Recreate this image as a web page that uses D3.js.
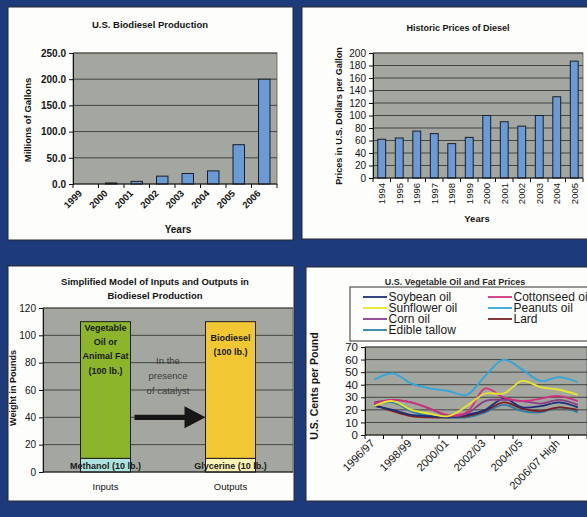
<!DOCTYPE html>
<html>
<head>
<meta charset="utf-8">
<script src="https://cdn.jsdelivr.net/npm/d3@7"></script>
<style>
  html, body { margin: 0; padding: 0; background: #1d3b7a; }
  svg { display: block; font-family: "Liberation Sans", Arial, sans-serif; }
</style>
</head>
<body>
<svg id="chart" width="587" height="517"></svg>
<script>
// ---- U.S. biodiesel production (millions of gallons)
const prodYears = ["1999", "2000", "2001", "2002", "2003", "2004", "2005", "2006"];
const prodValues = [0, 2, 5, 15, 20, 25, 75, 200];
const prodTicks = [0, 50, 100, 150, 200, 250];

// ---- Historic diesel prices
const dieselYears = ["1994", "1995", "1996", "1997", "1998", "1999", "2000", "2001", "2002", "2003", "2004", "2005"];
const dieselValues = [62, 64, 75, 71, 55, 65, 100, 90, 83, 100, 130, 187];
const dieselTicks = [0, 20, 40, 60, 80, 100, 120, 140, 160, 180, 200];

// ---- Inputs / outputs model (pounds)
const modelCats = ["Inputs", "Outputs"];
const modelBottom = [10, 10];          // methanol, glycerine
const modelTop = [100, 100];           // vegetable oil / animal fat, biodiesel
const modelBottomLabels = ["Methanol (10 lb.)", "Glycerine (10 lb.)"];
const modelTopLabels = [["Vegetable", "Oil or", "Animal Fat", "(100 lb.)"], ["Biodiesel", "(100 lb.)"]];
const modelTicks = [0, 20, 40, 60, 80, 100, 120];
const arrowLevel = 40;
const catalystText = ["In the", "presence", "of catalyst"];

// ---- Vegetable oil and fat prices (U.S. cents per pound)
const oilSeasons = ["1996/97", "1997/98", "1998/99", "1999/00", "2000/01", "2001/02",
                    "2002/03", "2003/04", "2004/05", "2005/06", "2006/07 High", "2006/07 Low"];
const soybeanOil    = [23, 20, 16, 15, 14, 16, 20, 29, 22, 23, 26, 22];
const cottonseedOil = [25, 28, 26, 21, 16, 18, 37, 30, 27, 29, 31, 27];
const sunflowerOil  = [23, 27, 20, 17, 15, 23, 33, 33, 43, 38, 36, 32];
const peanutsOil    = [44, 49, 41, 37, 35, 32, 47, 60, 52, 43, 46, 42];
const cornOil       = [26, 28, 26, 21, 15, 17, 27, 28, 27, 25, 28, 24];
const lard          = [24, 19, 15, 14, 14, 15, 19, 26, 21, 19, 22, 20];
const edibleTallow  = [24, 26, 19, 15, 14, 14, 18, 24, 19, 18, 22, 18];
const oilTicks = [0, 10, 20, 30, 40, 50, 60, 70];

const oilSeries = [
  { name: "Soybean oil",    values: soybeanOil,    color: "#1c2f7a", col: 0, row: 0 },
  { name: "Sunflower oil",  values: sunflowerOil,  color: "#e8e62a", col: 0, row: 1 },
  { name: "Corn oil",       values: cornOil,       color: "#8a3f86", col: 0, row: 2 },
  { name: "Edible tallow",  values: edibleTallow,  color: "#2a7fa8", col: 0, row: 3 },
  { name: "Cottonseed oil", values: cottonseedOil, color: "#d3307f", col: 1, row: 0 },
  { name: "Peanuts oil",    values: peanutsOil,    color: "#2fa6dc", col: 1, row: 1 },
  { name: "Lard",           values: lard,          color: "#7a1f22", col: 1, row: 2 }
];

const PLOT_BG = "#a3a7a0";
const GRID = "#2a2c2a";
const BAR_FILL = "#6b9bd6";
const TEXT = "#151515";

const svg = d3.select("#chart");

// page background and the four white panels
svg.append("rect").attr("width", 587).attr("height", 517).attr("fill", "#1d3b7a");
const panelRects = [[8, 7, 285, 233], [302, 7, 292, 232], [8, 266, 286, 235], [306, 267, 290, 234]];
svg.selectAll("rect.panel").data(panelRects).join("rect")
  .attr("class", "panel")
  .attr("x", d => d[0]).attr("y", d => d[1])
  .attr("width", d => d[2]).attr("height", d => d[3])
  .attr("fill", "#fdfdfb").attr("stroke", "#2a2a2a").attr("stroke-width", 1);

function styleAxis(g, size, weight) {
  g.select(".domain").attr("stroke", "#111").attr("stroke-width", 1);
  g.selectAll(".tick line").attr("stroke", "#111");
  g.selectAll(".tick text").attr("fill", TEXT).attr("font-size", size).attr("font-weight", weight)
    .attr("font-family", "\"Liberation Sans\", Arial, sans-serif");
}

function plotArea(x, y) {
  const [x0, x1] = x.range();
  const [y0, y1] = y.range();
  svg.append("rect").attr("x", x0).attr("y", y1).attr("width", x1 - x0).attr("height", y0 - y1)
    .attr("fill", PLOT_BG).attr("stroke", "#5a5c5a").attr("stroke-width", 0.8);
}

function gridLines(x, y, ticks) {
  const [x0, x1] = x.range();
  svg.append("g").selectAll("line").data(ticks.filter(t => t > 0)).join("line")
    .attr("x1", x0).attr("x2", x1)
    .attr("y1", d => y(d)).attr("y2", d => y(d))
    .attr("stroke", GRID).attr("stroke-width", 0.8);
}

// category axis with ticks between categories
function bandAxis(x, yPos) {
  const [x0, x1] = x.range();
  const g = svg.append("g");
  g.append("line").attr("x1", x0).attr("x2", x1).attr("y1", yPos).attr("y2", yPos)
    .attr("stroke", "#111").attr("stroke-width", 1);
  const n = x.domain().length;
  const step = (x1 - x0) / n;
  g.selectAll("line.tk").data(d3.range(n + 1)).join("line").attr("class", "tk")
    .attr("x1", i => x0 + i * step).attr("x2", i => x0 + i * step)
    .attr("y1", yPos).attr("y2", yPos + 4)
    .attr("stroke", "#111");
}

function text(x, y, str, opts = {}) {
  return svg.append("text").attr("x", x).attr("y", y).text(str)
    .attr("font-size", opts.size || 9)
    .attr("font-weight", opts.weight || "bold")
    .attr("text-anchor", opts.anchor || "middle")
    .attr("fill", opts.fill || TEXT)
    .attr("transform", opts.rotate ? `rotate(${opts.rotate},${x},${y})` : null);
}

// ================= Panel 1: U.S. Biodiesel Production =================
{
  const x = d3.scaleBand().domain(prodYears).range([73, 277]).paddingInner(0.55).paddingOuter(0.275);
  const y = d3.scaleLinear().domain([0, 250]).range([184, 53]);
  plotArea(x, y);
  gridLines(x, y, prodTicks);
  svg.append("g").selectAll("rect").data(prodYears.map((d, i) => ({ d, v: prodValues[i] })).filter(o => o.v > 0))
    .join("rect")
    .attr("x", o => x(o.d)).attr("width", x.bandwidth())
    .attr("y", o => y(o.v)).attr("height", o => y(0) - y(o.v))
    .attr("fill", BAR_FILL).attr("stroke", "#1b1d26").attr("stroke-width", 1);
  const ax = svg.append("g").attr("transform", "translate(73,0)")
    .call(d3.axisLeft(y).tickValues(prodTicks).tickFormat(d3.format(".1f")).tickSize(4).tickSizeOuter(0));
  styleAxis(ax, 10, "bold");
  bandAxis(x, 184);
  prodYears.forEach(d => {
    const cx = x(d) + x.bandwidth() / 2 - 3;
    text(cx, 194, d, { size: 9.5, weight: "bold", anchor: "end", rotate: -45 });
  });
  text(150, 28, "U.S. Biodiesel Production", { size: 9.5 });
  text(178, 233, "Years", { size: 10 });
  text(31, 120, "Millions of Gallons", { size: 9.5, rotate: -90 });
}

// ================= Panel 2: Historic Prices of Diesel =================
{
  const x = d3.scaleBand().domain(dieselYears).range([373, 583]).paddingInner(0.55).paddingOuter(0.275);
  const y = d3.scaleLinear().domain([0, 200]).range([178, 53]);
  plotArea(x, y);
  gridLines(x, y, dieselTicks);
  svg.append("g").selectAll("rect").data(dieselYears.map((d, i) => ({ d, v: dieselValues[i] })))
    .join("rect")
    .attr("x", o => x(o.d)).attr("width", x.bandwidth())
    .attr("y", o => y(o.v)).attr("height", o => y(0) - y(o.v))
    .attr("fill", BAR_FILL).attr("stroke", "#1b1d26").attr("stroke-width", 1);
  const ax = svg.append("g").attr("transform", "translate(373,0)")
    .call(d3.axisLeft(y).tickValues(dieselTicks).tickSize(4).tickSizeOuter(0));
  styleAxis(ax, 10, "normal");
  bandAxis(x, 178);
  dieselYears.forEach(d => {
    const cx = x(d) + x.bandwidth() / 2 + 3.5;
    text(cx, 183, d, { size: 9.5, weight: "normal", anchor: "end", rotate: -90 });
  });
  text(458, 31, "Historic Prices of Diesel", { size: 9 });
  text(477, 222, "Years", { size: 9.5 });
  text(342, 116, "Prices in U.S. Dollars per Gallon", { size: 9, rotate: -90 });
}

// ================= Panel 3: Inputs and Outputs model =================
{
  const x = d3.scaleBand().domain(modelCats).range([43, 293]).paddingInner(0.6).paddingOuter(0.3);
  const y = d3.scaleLinear().domain([0, 120]).range([472, 308]);
  plotArea(x, y);
  gridLines(x, y, modelTicks);
  const bottomColors = ["#aee3df", "#fbf2b4"];
  const topColors = ["#8cb52b", "#f2c734"];
  const stacked = modelCats.map((c, i) => ({ c, i, b: modelBottom[i], t: modelTop[i] }));
  const bars = svg.append("g");
  bars.selectAll("rect.bot").data(stacked).join("rect").attr("class", "bot")
    .attr("x", o => x(o.c)).attr("width", x.bandwidth())
    .attr("y", o => y(o.b)).attr("height", o => y(0) - y(o.b))
    .attr("fill", o => bottomColors[o.i]).attr("stroke", "#1d1d1d").attr("stroke-width", 1);
  bars.selectAll("rect.top").data(stacked).join("rect").attr("class", "top")
    .attr("x", o => x(o.c)).attr("width", x.bandwidth())
    .attr("y", o => y(o.b + o.t)).attr("height", o => y(o.b) - y(o.b + o.t))
    .attr("fill", o => topColors[o.i]).attr("stroke", "#1d1d1d").attr("stroke-width", 1);

  const ax = svg.append("g").attr("transform", "translate(43,0)")
    .call(d3.axisLeft(y).tickValues(modelTicks).tickSize(4).tickSizeOuter(0));
  styleAxis(ax, 10, "normal");
  svg.append("line").attr("x1", 43).attr("x2", 293).attr("y1", y(0)).attr("y2", y(0))
    .attr("stroke", "#111");

  // segment labels
  stacked.forEach(o => {
    const cx = x(o.c) + x.bandwidth() / 2;
    text(cx, y(o.b / 2) + 3.5, modelBottomLabels[o.i], { size: 9, fill: "#1a1a1a" });
    const lines = modelTopLabels[o.i];
    const first = o.i === 0 ? y(o.b + o.t) + 9 : y(o.b + o.t) + 19;
    lines.forEach((s, k) => text(cx, first + k * 14.3, s, { size: 9, fill: "#1a1a1a" }));
  });

  // category labels
  modelCats.forEach(c => text(x(c) + x.bandwidth() / 2, 490, c, { size: 9.5, weight: "normal" }));

  // reaction arrow between the two bars
  const ax0 = x("Inputs") + x.bandwidth() + 4;
  const ax1 = x("Outputs");
  const ay = y(arrowLevel);
  const headLen = 21, headHalf = 11, shaft = 2.6;
  svg.append("path")
    .attr("d", `M${ax0},${ay - shaft} L${ax1 - headLen},${ay - shaft} L${ax1 - headLen},${ay - headHalf}
                L${ax1},${ay} L${ax1 - headLen},${ay + headHalf} L${ax1 - headLen},${ay + shaft}
                L${ax0},${ay + shaft} Z`)
    .attr("fill", "#161616");
  const mid = (x("Inputs") + x.bandwidth() + x("Outputs")) / 2;
  catalystText.forEach((s, k) => text(mid, 364 + k * 15, s, { size: 9.5, weight: "normal", fill: "#3c3c3c" }));

  text(155, 285, "Simplified Model of Inputs and Outputs in", { size: 9.5 });
  text(155, 299, "Biodiesel Production", { size: 9.5 });
  text(16, 388, "Weight in Pounds", { size: 9, rotate: -90 });
}

// ================= Panel 4: U.S. Vegetable Oil and Fat Prices =================
{
  const xb = d3.scaleBand().domain(oilSeasons).range([365, 587]);
  const x = d3.scalePoint().domain(oilSeasons).range([365, 587]).padding(0.5);
  const y = d3.scaleLinear().domain([0, 70]).range([435, 347]);
  plotArea(xb, y);
  gridLines(xb, y, oilTicks);

  const line = d3.line().x((v, i) => x(oilSeasons[i])).y(v => y(v)).curve(d3.curveCatmullRom.alpha(0.5));
  const drawOrder = ["Edible tallow", "Lard", "Soybean oil", "Corn oil", "Cottonseed oil", "Sunflower oil", "Peanuts oil"];
  svg.append("g").selectAll("path")
    .data(drawOrder.map(n => oilSeries.find(s => s.name === n)))
    .join("path")
    .attr("d", s => line(s.values))
    .attr("fill", "none").attr("stroke", s => s.color).attr("stroke-width", 1.8)
    .attr("stroke-linejoin", "round");

  const ax = svg.append("g").attr("transform", "translate(365,0)")
    .call(d3.axisLeft(y).tickValues(oilTicks).tickSize(4).tickSizeOuter(0));
  styleAxis(ax, 11.5, "normal");
  bandAxis(xb, 435);
  oilSeasons.forEach((d, i) => {
    if (i % 2 !== 0) return;
    text(x(d) + 1, 444, d, { size: 11, weight: "normal", anchor: "end", rotate: -45 });
  });

  text(455, 285, "U.S. Vegetable Oil and Fat Prices", { size: 9, fill: "#2a2a2a" });
  text(318, 386, "U.S. Cents per Pound", { size: 10.5, rotate: -90 });

  // legend (runs past the right edge of the panel)
  const lg = svg.append("g");
  lg.append("rect").attr("x", 350).attr("y", 287).attr("width", 260).attr("height", 54)
    .attr("fill", "#fdfdfb").attr("stroke", "#333").attr("stroke-width", 1);
  const colX = [363, 488];
  const rowY = [297, 308, 319, 330];
  oilSeries.forEach(s => {
    const lx = colX[s.col], ly = rowY[s.row];
    lg.append("line").attr("x1", lx).attr("x2", lx + 24).attr("y1", ly).attr("y2", ly)
      .attr("stroke", s.color).attr("stroke-width", 1.8);
    lg.append("text").attr("x", lx + 25.5).attr("y", ly + 4).text(s.name)
      .attr("font-size", 12).attr("fill", "#1a1a1a");
  });
}
</script>
</body>
</html>
